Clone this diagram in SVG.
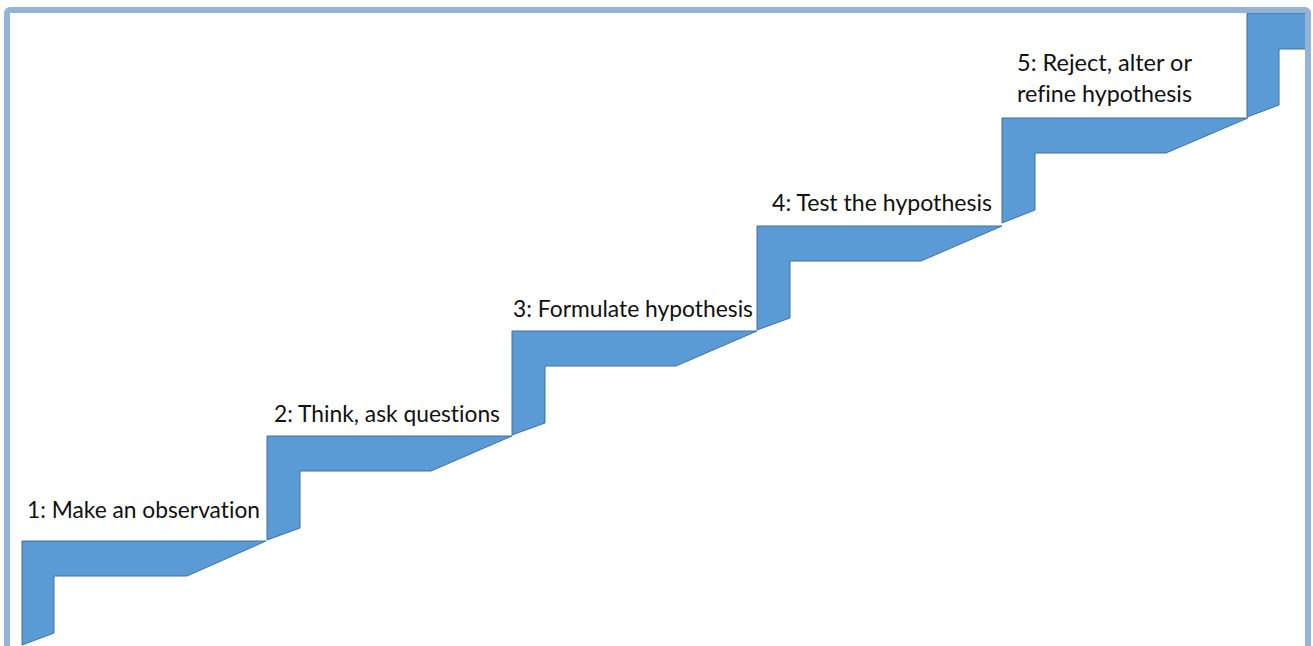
<svg xmlns="http://www.w3.org/2000/svg" width="1313" height="646" viewBox="0 0 1313 646">
<style>
.step{fill:#5b9bd5;stroke:#41719c;stroke-width:1;stroke-linejoin:miter}
.lbl{font-family:Lato,"Liberation Sans",Arial,sans-serif;font-size:23px;fill:#111111;font-variant-ligatures:none;font-feature-settings:"liga" 0}
.frame{fill:none;stroke:#95b3d7;stroke-width:6}
</style>
<rect width="1313" height="646" fill="#ffffff"/>
<g id="step1"><polygon class="step" points="22,541 266,541 187,576 54,576 54,633 22,645"/><text class="lbl" x="27" y="518" textLength="233" lengthAdjust="spacingAndGlyphs">1: Make an observation</text></g>
<g id="step2"><polygon class="step" points="267,436 512,436 431,471 300,471 300,528 267,540"/><text class="lbl" x="274" y="422" textLength="226" lengthAdjust="spacingAndGlyphs">2: Think, ask questions</text></g>
<g id="step3"><polygon class="step" points="512,331 757,331 676,366 545,366 545,423 512,435"/><text class="lbl" x="513" y="317" textLength="240" lengthAdjust="spacingAndGlyphs">3: Formulate hypothesis</text></g>
<g id="step4"><polygon class="step" points="757,226 1002,226 921,261 790,261 790,318 757,330"/><text class="lbl" x="772" y="211" textLength="220" lengthAdjust="spacingAndGlyphs">4: Test the hypothesis</text></g>
<g id="step5"><polygon class="step" points="1002,118 1248,118 1166,153 1035,153 1035,210 1002,223"/><text class="lbl" x="1017" y="71" textLength="175" lengthAdjust="spacingAndGlyphs">5: Reject, alter or</text><text class="lbl" x="1017" y="102" textLength="175" lengthAdjust="spacingAndGlyphs">refine hypothesis</text></g>
<g id="step6"><polygon class="step" points="1247,13 1306,13 1306,49 1279,49 1279,105 1247,117"/></g>
<g id="connectors"></g>
<rect id="frame" class="frame" x="7" y="10" width="1301" height="645" rx="3"/>
</svg>
